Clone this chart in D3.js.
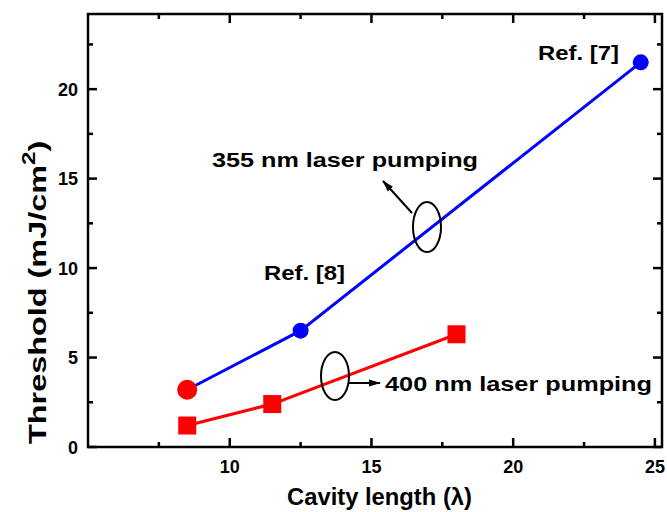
<!DOCTYPE html>
<html><head><meta charset="utf-8">
<script src="https://cdn.jsdelivr.net/npm/d3@7"></script>
<style>body{margin:0;background:#fff}svg{display:block}text{font-family:"Liberation Sans",Arial,sans-serif;font-weight:bold}</style>
</head><body><svg id="c" width="667" height="512"></svg>
<script>
const blueX = [8.5, 12.5, 24.5];
const blueY = [3.2, 6.5, 21.5];
const redX = [8.5, 11.5, 18];
const redY = [1.2, 2.4, 6.3];
const xTicks = [10, 15, 20, 25];
const yTicks = [0, 5, 10, 15, 20];
const xMinor = [7.5, 12.5, 17.5, 22.5];
const yMinor = [2.5, 7.5, 12.5, 17.5, 22.5];

const svg = d3.select("#c");
const L = 88, R = 662, T = 14, B = 447;
const x = d3.scaleLinear().domain([5, 25.25]).range([L, R]);
const y = d3.scaleLinear().domain([0, 24.2]).range([B, T]);

// ticks
const g = svg.append("g").attr("stroke", "#000").attr("stroke-width", 2.5);
xTicks.forEach(v => { g.append("line").attr("x1", x(v)).attr("x2", x(v)).attr("y1", B).attr("y2", B - 9);
  g.append("line").attr("x1", x(v)).attr("x2", x(v)).attr("y1", T).attr("y2", T + 9); });
xMinor.forEach(v => { g.append("line").attr("x1", x(v)).attr("x2", x(v)).attr("y1", B).attr("y2", B - 5);
  g.append("line").attr("x1", x(v)).attr("x2", x(v)).attr("y1", T).attr("y2", T + 5); });
yTicks.forEach(v => { g.append("line").attr("y1", y(v)).attr("y2", y(v)).attr("x1", L).attr("x2", L + 9);
  g.append("line").attr("y1", y(v)).attr("y2", y(v)).attr("x1", R).attr("x2", R - 9); });
yMinor.forEach(v => { g.append("line").attr("y1", y(v)).attr("y2", y(v)).attr("x1", L).attr("x2", L + 5);
  g.append("line").attr("y1", y(v)).attr("y2", y(v)).attr("x1", R).attr("x2", R - 5); });
svg.append("rect").attr("x", L).attr("y", T).attr("width", R - L).attr("height", B - T)
  .attr("fill", "none").attr("stroke", "#000").attr("stroke-width", 2.5);

// tick labels
svg.selectAll(".xl").data(xTicks).enter().append("text").attr("x", d => x(d)).attr("y", 473)
  .attr("text-anchor", "middle").attr("font-size", 18).text(d => d);
svg.selectAll(".yl").data(yTicks).enter().append("text").attr("x", 78).attr("y", d => y(d) + 6.5)
  .attr("text-anchor", "end").attr("font-size", 18).text(d => d);

// axis titles
svg.append("text").attr("x", 287).attr("y", 505)
  .attr("font-size", 23).attr("textLength", 185).attr("lengthAdjust", "spacingAndGlyphs").text("Cavity length (λ)");
const yt = svg.append("text").attr("transform", `translate(46,444) rotate(-90) scale(1.35,1)`)
  .attr("font-size", 24);
yt.append("tspan").text("Threshold (mJ/cm");
yt.append("tspan").attr("dy", -11).attr("font-size", 18).text("2");
yt.append("tspan").attr("dy", 11).text(")");

// lines
const line = d3.line().x(d => x(d[0])).y(d => y(d[1]));
const blue = blueX.map((v, i) => [v, blueY[i]]);
const red = redX.map((v, i) => [v, redY[i]]);
svg.append("path").attr("d", line(blue)).attr("fill", "none").attr("stroke", "#0000ff").attr("stroke-width", 3);
svg.append("path").attr("d", line(red)).attr("fill", "none").attr("stroke", "#ff0000").attr("stroke-width", 3);
svg.selectAll(".bc").data(blue.slice(1)).enter().append("circle")
  .attr("cx", d => x(d[0])).attr("cy", d => y(d[1])).attr("r", 8).attr("fill", "#0000ff");
svg.append("circle").attr("cx", x(blue[0][0])).attr("cy", y(blue[0][1])).attr("r", 10).attr("fill", "#ff0000");
svg.selectAll(".rs").data(red).enter().append("rect")
  .attr("x", d => x(d[0]) - 9).attr("y", d => y(d[1]) - 9).attr("width", 18).attr("height", 18).attr("fill", "#ff0000");

// annotations
svg.append("defs").append("marker").attr("id", "ah").attr("viewBox", "0 0 12 8").attr("refX", 11).attr("refY", 4)
  .attr("markerWidth", 6).attr("markerHeight", 4).attr("orient", "auto")
  .append("path").attr("d", "M0,0.5 L12,4 L0,7.5 Z").attr("fill", "#000");
svg.append("ellipse").attr("cx", 427).attr("cy", 227).attr("rx", 14).attr("ry", 25)
  .attr("fill", "none").attr("stroke", "#000").attr("stroke-width", 2);
svg.append("line").attr("x1", 412).attr("y1", 213).attr("x2", 383).attr("y2", 181)
  .attr("stroke", "#000").attr("stroke-width", 2).attr("marker-end", "url(#ah)");
svg.append("ellipse").attr("cx", 335).attr("cy", 376).attr("rx", 14).attr("ry", 24)
  .attr("fill", "none").attr("stroke", "#000").attr("stroke-width", 2);
svg.append("line").attr("x1", 349).attr("y1", 383).attr("x2", 380).attr("y2", 383)
  .attr("stroke", "#000").attr("stroke-width", 2).attr("marker-end", "url(#ah)");

svg.append("text").attr("x", 212).attr("y", 167).attr("font-size", 20)
  .attr("textLength", 266).attr("lengthAdjust", "spacingAndGlyphs").text("355 nm laser pumping");
svg.append("text").attr("x", 385).attr("y", 391).attr("font-size", 20)
  .attr("textLength", 267).attr("lengthAdjust", "spacingAndGlyphs").text("400 nm laser pumping");
svg.append("text").attr("x", 264).attr("y", 280).attr("font-size", 20)
  .attr("textLength", 81).attr("lengthAdjust", "spacingAndGlyphs").text("Ref. [8]");
svg.append("text").attr("x", 538).attr("y", 60).attr("font-size", 20)
  .attr("textLength", 81).attr("lengthAdjust", "spacingAndGlyphs").text("Ref. [7]");
</script></body></html>
